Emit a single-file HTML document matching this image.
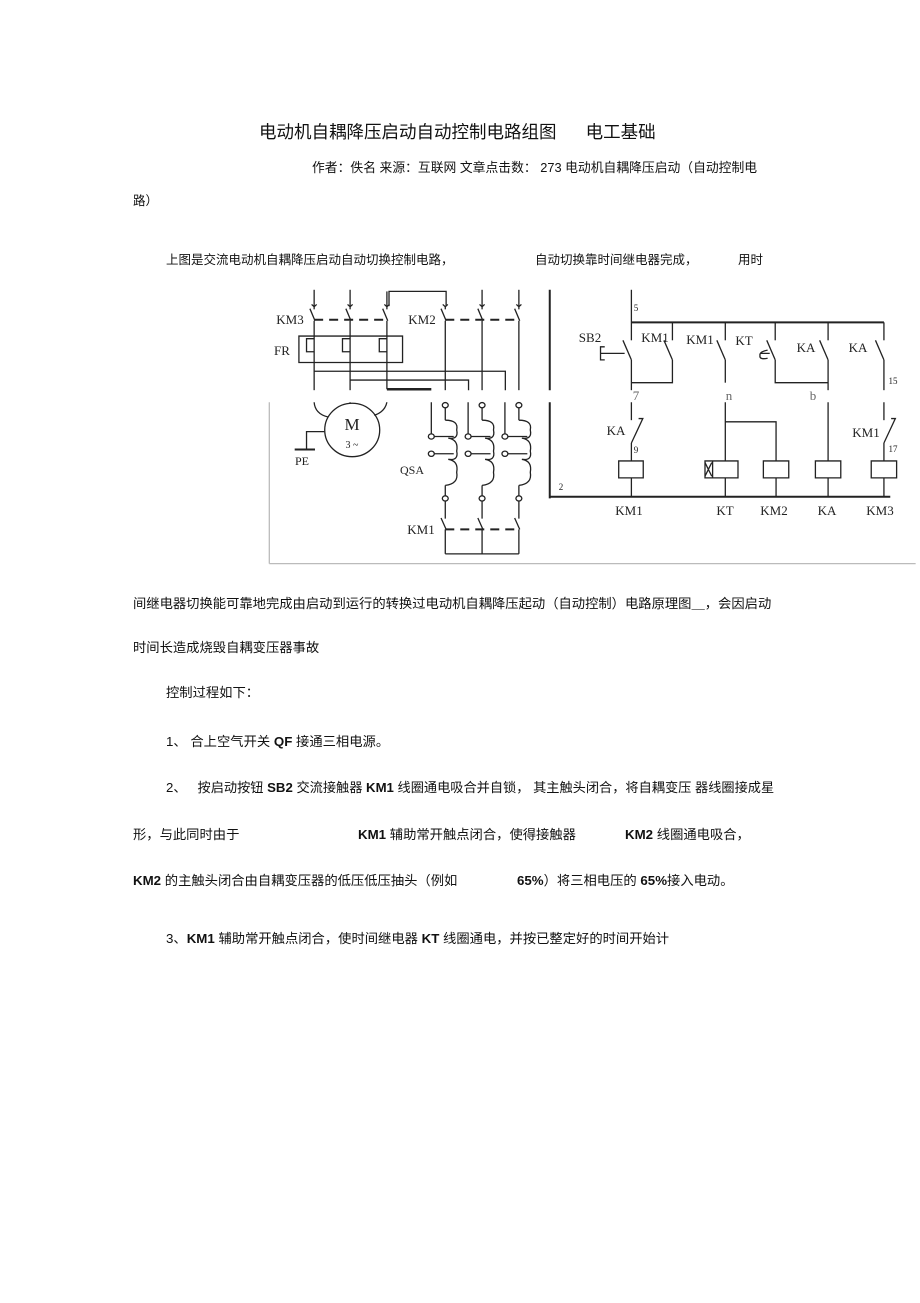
<!DOCTYPE html>
<html><head><meta charset="utf-8"><style>
body{margin:0;background:#fff;width:920px;height:1303px;position:relative;overflow:hidden;font-family:"Liberation Sans","Noto Sans CJK SC",sans-serif;color:#111}
.t{position:absolute;white-space:nowrap;font-size:13px;line-height:14px}
b{font-weight:bold}
svg{position:absolute;left:0;top:0}
svg line,svg path,svg rect,svg ellipse,svg circle,svg polyline{vector-effect:non-scaling-stroke}
</style></head><body>
<div class="t" style="left:259px;top:123px;font-size:17.5px;line-height:19px">电动机自耦降压启动自动控制电路组图&nbsp;&nbsp;&nbsp;&nbsp;&nbsp;&nbsp;电工基础</div>
<div class="t" style="left:312px;top:161px;font-size:12.8px">作者：佚名 来源：互联网 文章点击数： 273 电动机自耦降压启动（自动控制电</div>
<div class="t" style="left:133px;top:194px;font-size:12.5px">路）</div>
<div class="t" style="left:166px;top:253px;font-size:12.5px">上图是交流电动机自耦降压启动自动切换控制电路，</div>
<div class="t" style="left:535px;top:253px;font-size:12.5px">自动切换靠时间继电器完成，</div>
<div class="t" style="left:738px;top:253px;font-size:12.5px">用时</div>

<svg width="920" height="1303">
<g transform="translate(260,280) scale(0.423,0.326)" stroke="#222" stroke-width="1.3" fill="none">
<line x1="128" y1="30" x2="128" y2="90"/><line x1="118" y1="88" x2="130" y2="125"/><line x1="128" y1="125" x2="128" y2="338"/>
<line x1="213" y1="30" x2="213" y2="90"/><line x1="203" y1="88" x2="215" y2="125"/><line x1="213" y1="125" x2="213" y2="338"/>
<line x1="300" y1="35" x2="300" y2="90"/><line x1="290" y1="88" x2="302" y2="125"/><line x1="300" y1="125" x2="300" y2="335"/>
<polyline points="305,80 305,35 440,35 440,80"/>
<line x1="438" y1="80" x2="438" y2="90"/><line x1="428" y1="88" x2="440" y2="125"/><line x1="438" y1="125" x2="438" y2="338"/>
<line x1="525" y1="30" x2="525" y2="90"/><line x1="515" y1="88" x2="527" y2="125"/><line x1="525" y1="125" x2="525" y2="338"/>
<line x1="612" y1="30" x2="612" y2="90"/><line x1="602" y1="88" x2="614" y2="125"/><line x1="612" y1="125" x2="612" y2="338"/>
<path d="M122 75 L128 82 L134 75 M207 75 L213 82 L219 75 M294 75 L300 82 L306 75 M432 75 L438 82 L444 75 M519 75 L525 82 L531 75 M606 75 L612 82 L618 75"/>
<line x1="128" y1="122" x2="300" y2="122" stroke-dasharray="9 6" stroke-width="2"/>
<line x1="438" y1="122" x2="612" y2="122" stroke-dasharray="9 6" stroke-width="2"/>
<rect x="92" y="172" width="245" height="81"/>
<path d="M128 180 L110 180 L110 220 L128 220 M213 180 L195 180 L195 220 L213 220 M300 180 L282 180 L282 220 L300 220"/>
<polyline points="128,280 580,280 580,338"/>
<polyline points="213,307 493,307 493,338"/>
<line x1="300" y1="335" x2="405" y2="335" stroke-width="2.5"/>
<line x1="685" y1="30" x2="685" y2="338" stroke-width="2"/>
<line x1="685" y1="375" x2="685" y2="670" stroke-width="2"/>
<ellipse cx="218" cy="460" rx="65" ry="82"/>
<path d="M128 375 Q130 410 160 420 M213 375 L213 378 M300 375 Q295 405 270 415"/>
<polyline points="152,465 110,465 110,520"/><line x1="82" y1="520" x2="130" y2="520" stroke-width="2"/>
<line x1="22" y1="375" x2="22" y2="870" stroke="#bbb"/>
<line x1="22" y1="870" x2="1550" y2="870" stroke="#bbb"/>
<g id="tr">
<line x1="405" y1="375" x2="405" y2="472"/><ellipse cx="405" cy="480" rx="7" ry="8"/>
<line x1="438" y1="375" x2="438" y2="376"/><ellipse cx="438" cy="384" rx="7" ry="8"/>
<line x1="438" y1="392" x2="438" y2="430"/>
<path d="M438 430 Q470 430 465 460 Q470 490 445 485 Q470 490 465 525 Q470 555 445 550 Q470 555 465 590 Q470 625 438 630"/>
<line x1="412" y1="480" x2="458" y2="480"/><ellipse cx="405" cy="533" rx="7" ry="8"/><line x1="412" y1="533" x2="458" y2="533"/>
<line x1="438" y1="630" x2="438" y2="662"/><ellipse cx="438" cy="670" rx="7" ry="8"/>
<line x1="438" y1="678" x2="438" y2="732"/><line x1="428" y1="730" x2="440" y2="765"/><line x1="438" y1="765" x2="438" y2="840"/>
</g>
<use href="#tr" transform="translate(87,0)"/>
<use href="#tr" transform="translate(174,0)"/>
<line x1="438" y1="765" x2="612" y2="765" stroke-dasharray="9 6" stroke-width="2"/>
<line x1="438" y1="840" x2="612" y2="840"/>
<line x1="878" y1="30" x2="878" y2="185"/><line x1="878" y1="130" x2="1475" y2="130" stroke-width="2"/>
<line x1="858" y1="185" x2="878" y2="245"/><line x1="878" y1="245" x2="878" y2="338"/>
<path d="M815 205 L805 205 L805 245 L815 245 M805 225 L862 225" />
<line x1="975" y1="130" x2="975" y2="185"/><line x1="955" y1="185" x2="975" y2="245"/><polyline points="975,245 975,315 878,315"/>
<line x1="1100" y1="130" x2="1100" y2="185"/><line x1="1080" y1="185" x2="1100" y2="245"/><line x1="1100" y1="245" x2="1100" y2="315"/>
<line x1="1218" y1="130" x2="1218" y2="185"/><line x1="1198" y1="185" x2="1218" y2="245"/><polyline points="1218,245 1218,315 1343,315"/>
<path d="M1200 215 Q1180 220 1182 232 Q1180 245 1200 240 M1182 225 L1205 225"/>
<line x1="1343" y1="130" x2="1343" y2="185"/><line x1="1323" y1="185" x2="1343" y2="245"/><line x1="1343" y1="245" x2="1343" y2="338"/>
<line x1="1475" y1="130" x2="1475" y2="185"/><line x1="1455" y1="185" x2="1475" y2="245"/><line x1="1475" y1="245" x2="1475" y2="338"/>
<line x1="878" y1="375" x2="878" y2="430"/><polyline points="878,500 905,425 895,425"/><line x1="878" y1="500" x2="878" y2="555"/>
<rect x="848" y="555" width="58" height="52"/><line x1="878" y1="607" x2="878" y2="665"/>
<line x1="1100" y1="375" x2="1100" y2="555"/><polyline points="1100,435 1220,435 1220,555"/>
<rect x="1052" y="555" width="78" height="52"/><path d="M1070 555 L1070 607 M1052 560 L1068 602 M1068 560 L1052 602"/>
<line x1="1100" y1="607" x2="1100" y2="665"/>
<rect x="1190" y="555" width="60" height="52"/><line x1="1220" y1="607" x2="1220" y2="665"/>
<line x1="1343" y1="375" x2="1343" y2="555"/><rect x="1313" y="555" width="60" height="52"/><line x1="1343" y1="607" x2="1343" y2="665"/>
<line x1="1475" y1="375" x2="1475" y2="430"/><polyline points="1475,500 1502,425 1492,425"/><line x1="1475" y1="500" x2="1475" y2="555"/>
<rect x="1445" y="555" width="60" height="52"/><line x1="1475" y1="607" x2="1475" y2="665"/>
<line x1="685" y1="665" x2="1490" y2="665" stroke-width="2"/>
</g>
<g font-family="'Liberation Serif',serif" font-size="13" fill="#222" text-anchor="middle">
<text x="290" y="324">KM3</text><text x="422" y="324">KM2</text><text x="282" y="355">FR</text>
<text x="352" y="430" font-size="17">M</text><text x="352" y="448" font-size="10">3 ~</text>
<text x="302" y="465" font-size="12">PE</text><text x="412" y="474" font-size="12">QSA</text>
<text x="421" y="534">KM1</text>
<text x="590" y="342">SB2</text><text x="655" y="342">KM1</text><text x="700" y="344">KM1</text><text x="744" y="345">KT</text>
<text x="806" y="352">KA</text><text x="858" y="352">KA</text>
<text x="636" y="311" font-size="9">5</text><text x="893" y="384" font-size="9">15</text>
<text x="636" y="400" fill="#666">7</text><text x="729" y="400" fill="#666">n</text><text x="813" y="400" fill="#666">b</text>
<text x="616" y="435">KA</text><text x="636" y="453" font-size="9">9</text>
<text x="866" y="437">KM1</text><text x="893" y="452" font-size="9">17</text>
<text x="561" y="490" font-size="9">2</text>
<text x="629" y="515">KM1</text><text x="725" y="515">KT</text><text x="774" y="515">KM2</text><text x="827" y="515">KA</text><text x="880" y="515">KM3</text>
</g>
</svg>

<div class="t" style="left:133px;top:597px;font-size:13.3px">间继电器切换能可靠地完成由启动到运行的转换过电动机自耦降压起动（自动控制）电路原理图＿，会因启动</div>
<div class="t" style="left:133px;top:641px;font-size:13.3px">时间长造成烧毁自耦变压器事故</div>
<div class="t" style="left:166px;top:686px;font-size:13.3px">控制过程如下：</div>
<div class="t" style="left:166px;top:735px;font-size:13.3px">1、 合上空气开关 <b>QF</b> 接通三相电源。</div>
<div class="t" style="left:166px;top:781px;font-size:13.2px">2、&nbsp;&nbsp; 按启动按钮 <b>SB2</b> 交流接触器 <b>KM1</b> 线圈通电吸合并自锁， 其主触头闭合，将自耦变压 器线圈接成星</div>
<div class="t" style="left:133px;top:828px;font-size:13.3px">形，与此同时由于</div>
<div class="t" style="left:358px;top:828px;font-size:13.3px"><b>KM1</b> 辅助常开触点闭合，使得接触器</div>
<div class="t" style="left:625px;top:828px;font-size:13.3px"><b>KM2</b> 线圈通电吸合，</div>
<div class="t" style="left:133px;top:874px;font-size:13.3px"><b>KM2</b> 的主触头闭合由自耦变压器的低压低压抽头（例如</div>
<div class="t" style="left:517px;top:874px;font-size:13.3px"><b>65%</b>）将三相电压的 <b>65%</b>接入电动。</div>
<div class="t" style="left:166px;top:932px;font-size:13.3px">3、<b>KM1</b> 辅助常开触点闭合，使时间继电器 <b>KT</b> 线圈通电，并按已整定好的时间开始计</div>
</body></html>
